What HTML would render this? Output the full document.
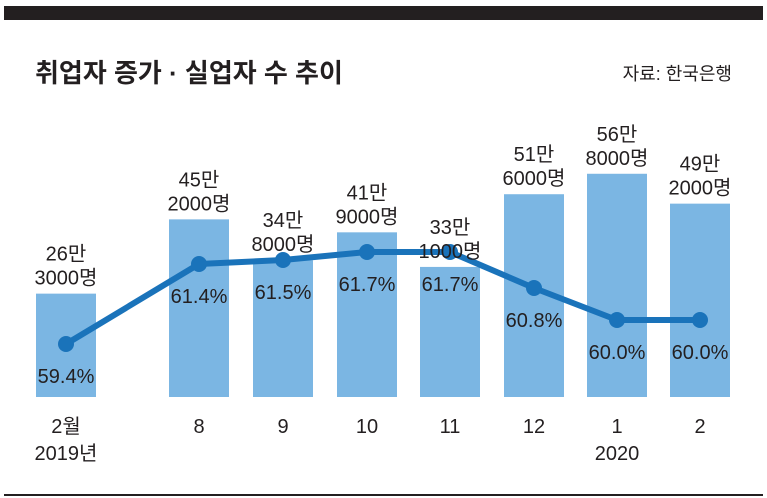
<!DOCTYPE html>
<html><head><meta charset="utf-8"><style>
body{margin:0;background:#fff;}
svg{display:block;font-family:"Liberation Sans","Noto Sans CJK KR",sans-serif;}
</style></head><body>
<svg id="c" width="767" height="498" viewBox="0 0 767 498">
<rect x="4" y="6" width="759" height="14" fill="#231f20"/>
<text x="35" y="82" font-size="26" font-weight="bold" fill="#231f20">취업자 증가 · 실업자 수 추이</text>
<text x="732" y="80" font-size="18" text-anchor="end" fill="#231f20">자료: 한국은행</text>
<line x1="4" y1="495" x2="763" y2="495" stroke="#231f20" stroke-width="2"/>
<g id="bars"></g><g id="line"></g><g id="labels"></g>
</svg>
<script>
const categories=["2월","8","9","10","11","12","1","2"];
const subLabels=["2019년","","","","","","2020",""];
const increaseMan=[26.3,45.2,34.8,41.9,33.1,51.6,56.8,49.2];
const increaseLabels=[["26만","3000명"],["45만","2000명"],["34만","8000명"],["41만","9000명"],["33만","1000명"],["51만","6000명"],["56만","8000명"],["49만","2000명"]];
const rate=[59.4,61.4,61.5,61.7,61.7,60.8,60.0,60.0];
const ns="http://www.w3.org/2000/svg";
const centers=[66,199,283,367,450,534,617,700];
const xOf=i=>centers[i];
const base=397;
const yBar=v=>base-v*3.93;
const yRate=v=>344-(v-59.4)*40;
function mk(t,a,p){const e=document.createElementNS(ns,t);for(const k in a)e.setAttribute(k,a[k]);p.appendChild(e);return e;}
const gB=document.getElementById('bars'),gL=document.getElementById('line'),gT=document.getElementById('labels');
categories.forEach((c,i)=>{
 const y=yBar(increaseMan[i]);
 const r=mk('rect',{x:xOf(i)-30,y:y,width:60,height:base-y,fill:'#7bb6e3'},gB);
 
 
 increaseLabels[i].forEach((s,j)=>{
  const t=mk('text',{x:xOf(i),y:y-33+j*24,'font-size':20,'text-anchor':'middle',fill:'#231f20'},gT);
  t.textContent=s;
  
  
 });
 const xl=mk('text',{x:xOf(i),y:433,'font-size':20,'text-anchor':'middle',fill:'#231f20'},gT);
 xl.textContent=c;
 
 
 if(subLabels[i]){const s=mk('text',{x:xOf(i),y:460,'font-size':20,'text-anchor':'middle',fill:'#231f20'},gT);
  s.textContent=subLabels[i];
  
  }
});
const pts=rate.map((v,i)=>xOf(i)+','+yRate(v)).join(' ');
const pl=mk('polyline',{points:pts,fill:'none',stroke:'#1a73ba','stroke-width':6,'stroke-linejoin':'round'},gL);


rate.forEach((v,i)=>{
 const c=mk('circle',{cx:xOf(i),cy:yRate(v),r:8,fill:'#1a73ba'},gL);
 
 
 const t=mk('text',{x:xOf(i),y:yRate(v)+39,'font-size':20,'text-anchor':'middle',fill:'#231f20'},gL);
 t.textContent=v.toFixed(1)+'%';
 
 
});
</script>
</body></html>
